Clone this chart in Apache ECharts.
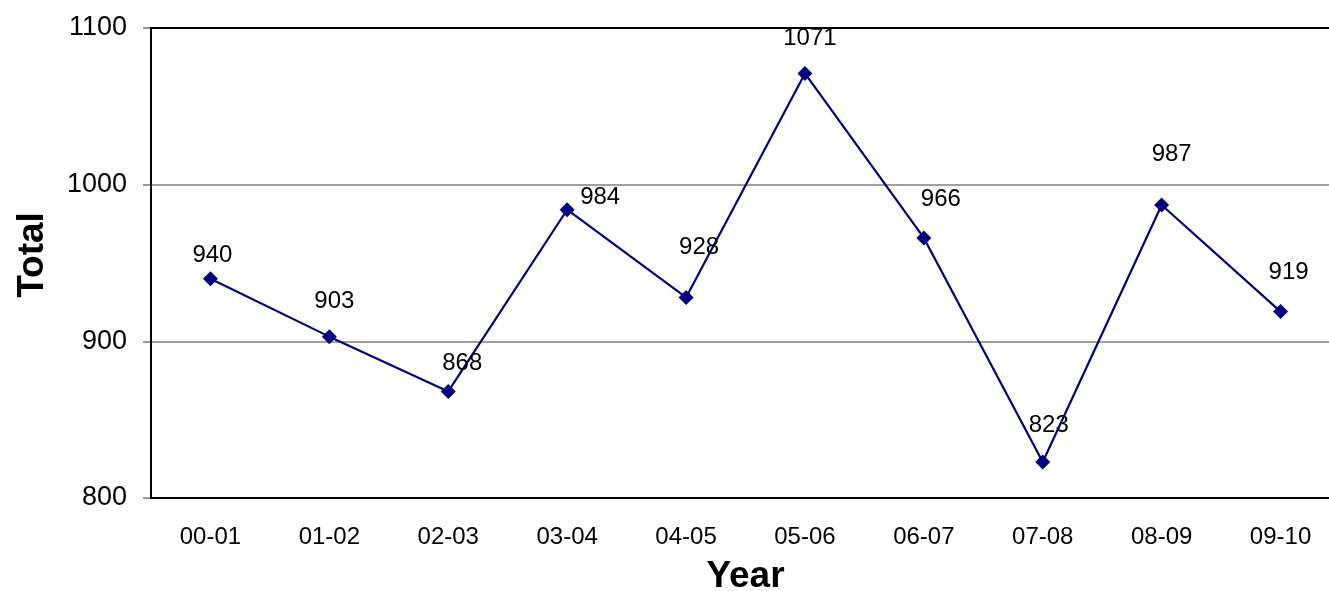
<!DOCTYPE html>
<html><head><meta charset="utf-8">
<script src="https://cdn.jsdelivr.net/npm/echarts@6/dist/echarts.min.js"></script>
<style>html,body{margin:0;padding:0;background:#fff}#c{width:1329px;height:591px}</style>
</head><body><div id="c"></div>
<script>
const categories = ['00-01','01-02','02-03','03-04','04-05','05-06','06-07','07-08','08-09','09-10'];
const totals = [940, 903, 868, 984, 928, 1071, 966, 823, 987, 919];
const yTicks = [800, 900, 1000, 1100];
// label placement offsets (style only)
const labelOffsets = [[2,-23],[5,-35],[14,-28],[33,-12],[13,-50],[5,-35],[17,-39],[6,-37],[10,-51],[8,-39]];

const font = 'Liberation Sans, Arial, sans-serif';
const chart = echarts.init(document.getElementById('c'), null, {renderer:'canvas'});
chart.setOption({
  animation:false,
  backgroundColor:'#fff',
  grid:{left:151, top:28, right:-11, bottom:93, containLabel:false, outerBoundsMode:'none',
        show:true, borderColor:'#000', borderWidth:2, backgroundColor:'transparent', z:5},
  xAxis:{
    type:'category', data:categories, boundaryGap:true,
    name:'Year', nameLocation:'middle', nameGap:60,
    nameTextStyle:{fontFamily:font, fontWeight:'bold', fontSize:37, color:'#000'},
    axisLine:{lineStyle:{color:'#000', width:2}},
    axisTick:{alignWithLabel:true, length:6, inside:false, lineStyle:{color:'#777', width:1.5}},
    axisLabel:{fontFamily:font, fontSize:24, color:'#000', margin:27, interval:0}
  },
  yAxis:{
    type:'value', min:yTicks[0], max:yTicks[yTicks.length-1], interval:100,
    name:'Total', nameLocation:'middle', nameGap:100,
    nameTextStyle:{fontFamily:font, fontWeight:'bold', fontSize:37, color:'#000', padding:[0,0,0,16]},
    axisLine:{show:true, lineStyle:{color:'#000', width:2}},
    axisTick:{show:true, length:8, lineStyle:{color:'#777', width:1.5}},
    splitLine:{show:true, showMaxLine:false, showMinLine:false, lineStyle:{color:'#808080', width:1.5}},
    axisLabel:{fontFamily:font, fontSize:27, color:'#000', margin:24, formatter:v=>String(v)}
  },
  series:[{
    type:'line', data:totals.map((v,i)=>({value:v, label:{offset:labelOffsets[i]}})),
    symbol:'diamond', symbolSize:15,
    lineStyle:{color:'#000080', width:2.2},
    itemStyle:{color:'#000080'},
    label:{show:true, position:'inside', fontFamily:font, fontSize:24, color:'#000'}
  }]
});
</script></body></html>
